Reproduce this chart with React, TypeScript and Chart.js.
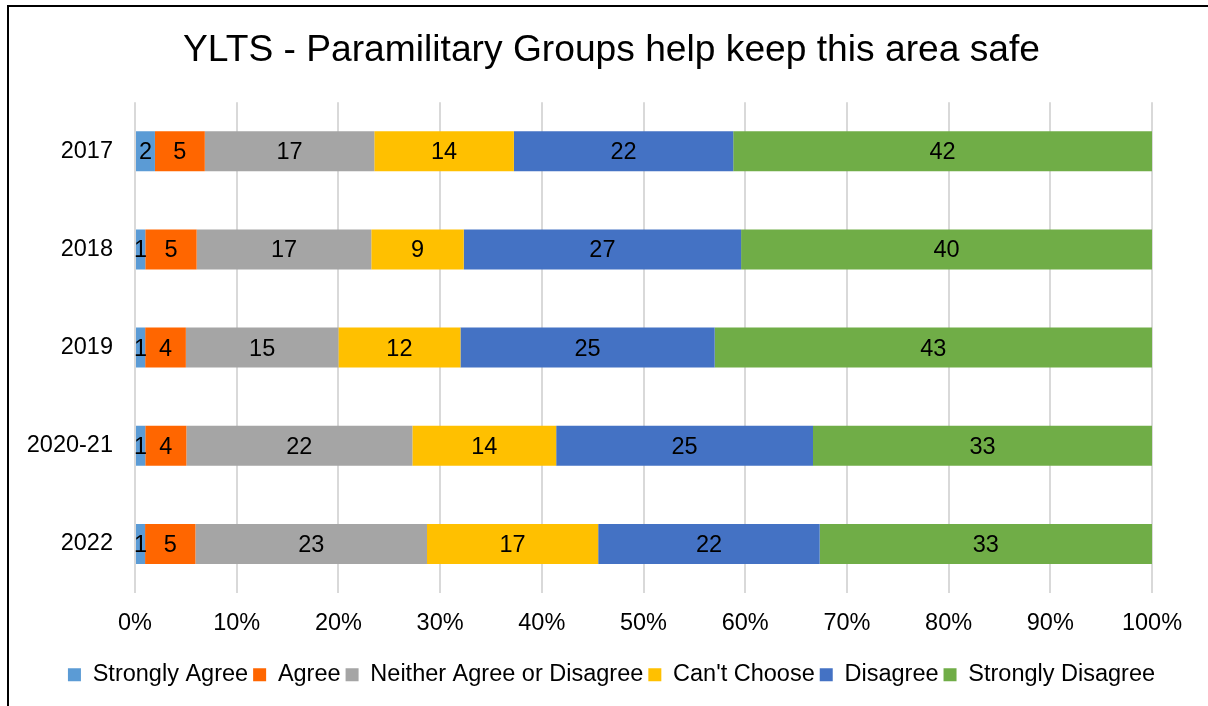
import React, { useEffect, useRef } from "react";
import { Chart, registerables } from "chart.js";

Chart.register(...registerables);

const years = ["2017", "2018", "2019", "2020-21", "2022"];
const seriesNames = [
  "Strongly Agree",
  "Agree",
  "Neither Agree or Disagree",
  "Can't Choose",
  "Disagree",
  "Strongly Disagree",
];
const stronglyAgree = [2, 1, 1, 1, 1];
const agree = [5, 5, 4, 4, 5];
const neither = [17, 17, 15, 22, 23];
const cantChoose = [14, 9, 12, 14, 17];
const disagree = [22, 27, 25, 25, 22];
const stronglyDisagree = [42, 40, 43, 33, 33];
const seriesColors = ["#5B9BD5", "#FF6600", "#A5A5A5", "#FFC000", "#4472C4", "#70AD47"];
const xTicks = [0, 10, 20, 30, 40, 50, 60, 70, 80, 90, 100];

const FONT = "'Liberation Sans', Arial, Helvetica, sans-serif";

const allSeries = [stronglyAgree, agree, neither, cantChoose, disagree, stronglyDisagree];
const totals = years.map((_, i) => allSeries.reduce((s, arr) => s + arr[i], 0));

const labelPlugin = {
  id: "segLabels",
  afterDatasetsDraw(chart: any) {
    const ctx = chart.ctx;
    ctx.save();
    ctx.font = `23.5px ${FONT}`;
    ctx.fillStyle = "#000000";
    ctx.textAlign = "center";
    ctx.textBaseline = "middle";
    chart.data.datasets.forEach((ds: any, di: number) => {
      const meta = chart.getDatasetMeta(di);
      meta.data.forEach((el: any, i: number) => {
        const raw = ds.rawValues[i];
        const cx = (el.x + el.base) / 2;
        ctx.fillText(String(raw), cx, el.y + 1.5);
      });
    });
    ctx.restore();
  },
};

export default function App() {
  const ref = useRef<HTMLCanvasElement | null>(null);
  useEffect(() => {
    if (!ref.current) return;
    const chart = new Chart(ref.current, {
      type: "bar",
      data: {
        labels: years,
        datasets: allSeries.map((arr, si) => ({
          label: seriesNames[si],
          data: arr.map((v, i) => (v / totals[i]) * 100),
          rawValues: arr,
          backgroundColor: seriesColors[si],
          borderWidth: 0,
          categoryPercentage: 1,
          barPercentage: 0.407,
        })) as any,
      },
      options: {
        indexAxis: "y",
        animation: false,
        responsive: false,
        maintainAspectRatio: false,
        layout: { padding: { left: 15, right: 0, top: 0, bottom: 9.5 } },
        plugins: {
          title: {
            display: true,
            text: "YLTS - Paramilitary Groups help keep this area safe",
            color: "#000000",
            font: { family: FONT, size: 37.2, weight: "normal" as any },
            padding: { top: 28.5, bottom: 29 },
          },
          legend: {
            position: "bottom",
            labels: {
              color: "#000000",
              font: { family: FONT, size: 23.5 },
              boxWidth: 13,
              boxHeight: 13,
              padding: 5,
            },
          },
          tooltip: { enabled: false },
        },
        scales: {
          x: {
            stacked: true,
            min: 0,
            max: 100,
            afterBuildTicks(scale: any) {
              scale.ticks = xTicks.map((v) => ({ value: v }));
            },
            afterFit(scale: any) {
              scale.height = 65;
            },
            ticks: {
              color: "#000000",
              font: { family: FONT, size: 23.5 },
              padding: 16,
              callback: (v: any) => `${v}%`,
              maxRotation: 0,
            },
            grid: { color: "#D9D9D9", lineWidth: 2, drawTicks: false },
            border: { display: false },
          },
          y: {
            stacked: true,
            afterFit(scale: any) {
              scale.width = 120;
            },
            ticks: {
              color: "#000000",
              font: { family: FONT, size: 23.5 },
              padding: 22,
            },
            grid: { display: false, drawTicks: false },
            border: { display: false },
          },
          yRight: {
            type: "category",
            position: "right",
            display: true,
            afterFit(scale: any) {
              scale.width = 56;
            },
            ticks: { display: false },
            grid: { display: false, drawTicks: false },
            border: { display: false },
          },
        },
      },
      plugins: [labelPlugin],
    });
    return () => chart.destroy();
  }, []);

  return (
    <div style={{ position: "absolute", left: 0, top: 0, width: 1208, height: 706, background: "#ffffff", overflow: "hidden" }}>
      <canvas ref={ref} width={1208} height={706} style={{ position: "absolute", left: 0, top: 0 }} />
      <div
        style={{
          position: "absolute",
          left: 7,
          top: 5,
          width: 1300,
          height: 800,
          borderLeft: "2px solid #000000",
          borderTop: "2px solid #000000",
          pointerEvents: "none",
        }}
      />
    </div>
  );
}
